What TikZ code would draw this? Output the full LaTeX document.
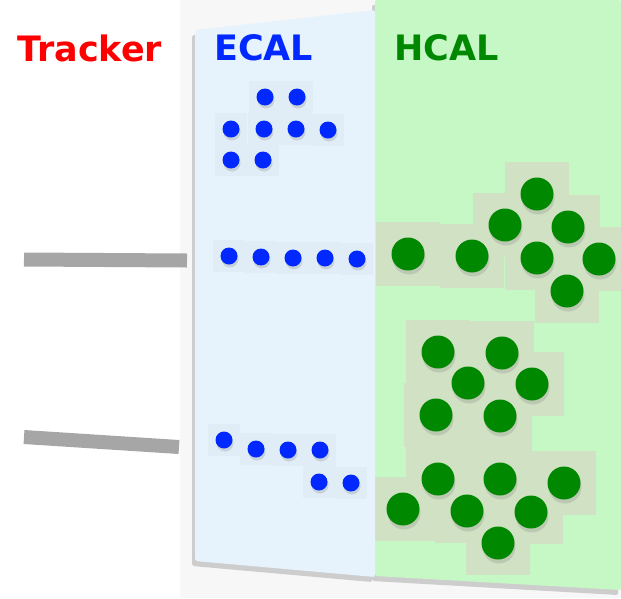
\documentclass[tikz,border=0pt]{standalone}
\usepackage{fontspec}
\setsansfont{DejaVu Sans}
\usetikzlibrary{shadows}
\definecolor{trackred}{RGB}{255,0,0}
\definecolor{ecalblue}{RGB}{0,40,255}
\definecolor{hcalgreen}{RGB}{0,136,0}
\definecolor{ecalface}{RGB}{230,243,253}
\definecolor{hcalface}{RGB}{198,248,198}
\definecolor{ecalcell}{RGB}{224,237,247}
\definecolor{hcalcell}{RGB}{209,226,196}
\definecolor{trackgrey}{RGB}{166,166,166}
\definecolor{backdrop}{RGB}{247,247,247}
\tikzset{
  detname/.style={font=\sffamily\bfseries\fontsize{35}{38}\selectfont, anchor=west, inner sep=0pt},
  panel/.style={rounded corners=2pt, drop shadow={opacity=0.35, shadow xshift=-3pt, shadow yshift=-5pt}},
  track/.style={draw=trackgrey, line width=14pt},
  ehit/.style={circle, fill=ecalblue, minimum size=17pt, inner sep=0pt,
    drop shadow={opacity=0.25, shadow xshift=1pt, shadow yshift=-3pt}},
  hhit/.style={circle, fill=hcalgreen, minimum size=33pt, inner sep=0pt,
    drop shadow={opacity=0.25, shadow xshift=1pt, shadow yshift=-4pt}},
  ecell/.style={fill=ecalcell},
  hcell/.style={fill=hcalcell}
}
% hit positions, one x/y pair per cell
\def\ecalhits{265/97, 297/97, 231/129, 264/129, 296/129, 328/130,
  231/160, 263/160, 229/256, 261/257, 293/258, 325/258, 357/259,
  224/440, 256/449, 288/450, 320/450, 319/482, 351/483}
\def\hcalhits{408/254, 472/256, 505/225, 537/194, 568/227, 537/258,
  599/259, 567/291, 438/352, 502/353, 468/383, 532/384, 436/415, 500/416,
  438/479, 500/479, 564/483, 403/509, 467/511, 531/512, 498/543}

\begin{document}
\begin{tikzpicture}[x=1pt, y=-1pt]
    \useasboundingbox (0,0) rectangle (621,598);
    \fill[backdrop] (180,0) rectangle (621,598);

    % HCAL slab
    \fill[hcalface, panel] (375,0) -- (621,0) -- (621,590) -- (375,576) -- cycle;
    \foreach \x/\y in \hcalhits
      \fill[hcell] (\x-32,\y-32) rectangle ++(64,64);
    \foreach \x/\y [count=\i] in \hcalhits
      \node[hhit] (h\i) at (\x,\y) {};

    % ECAL slab
    \fill[ecalface, panel] (195,30) -- (375,10) -- (375,577) -- (195,561) -- cycle;
    \foreach \x/\y in \ecalhits
      \fill[ecell] (\x-16,\y-16) rectangle ++(32,32);
    \foreach \x/\y [count=\i] in \ecalhits
      \node[ehit] (e\i) at (\x,\y) {};

    % tracks
    \coordinate (ta) at (24,259.5);
    \coordinate (tb) at (187,260.5);
    \coordinate (tc) at (24,437);
    \coordinate (td) at (179,447);
    \draw[track] (ta) -- (tb);
    \draw[track] (tc) -- (td);

    \node[detname, text=trackred] (tracker) at (17,48) {Tracker};
    \node[detname, text=ecalblue] (ecal) at (214,48) {ECAL};
    \node[detname, text=hcalgreen] (hcal) at (394,48) {HCAL};
\end{tikzpicture}
\end{document}
